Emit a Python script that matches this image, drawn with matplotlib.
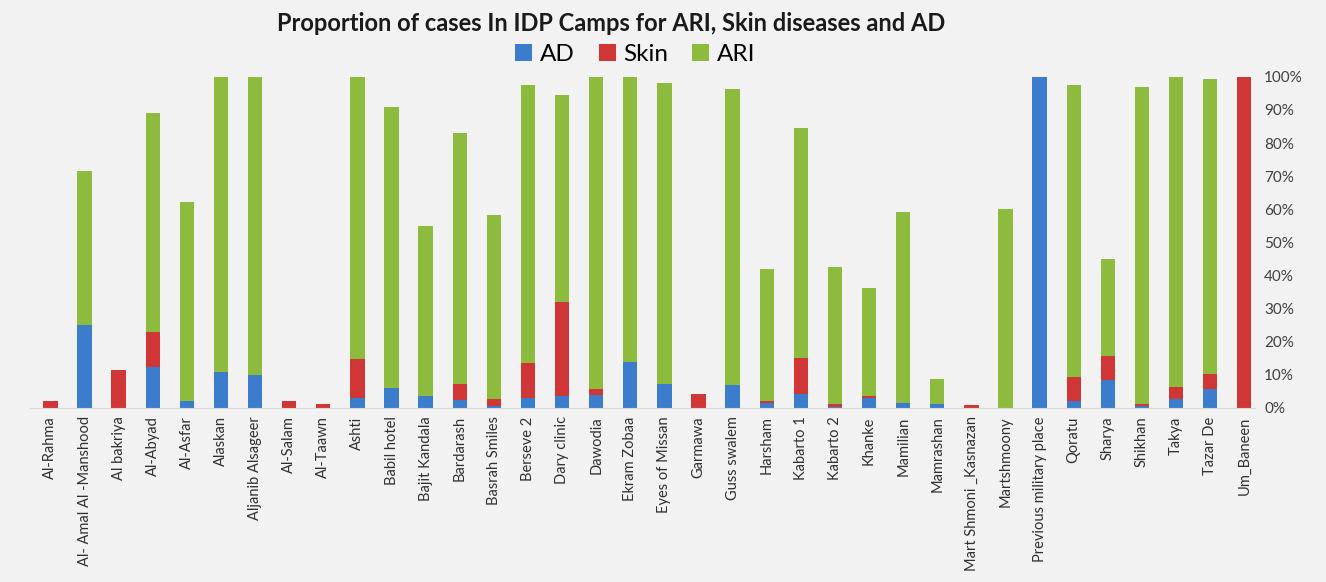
import matplotlib
matplotlib.use("Agg")
import matplotlib.pyplot as plt
import numpy as np
from matplotlib.ticker import PercentFormatter

camps = ["Al-Rahma", "Al- Amal Al -Manshood", "Al bakriya", "Al-Abyad", "Al-Asfar",
         "Alaskan", "Aljanib Alsageer", "Al-Salam", "Al-Taawn", "Ashti", "Babil hotel",
         "Bajit Kandala", "Bardarash", "Basrah Smiles", "Berseve 2", "Dary clinic",
         "Dawodia", "Ekram Zobaa", "Eyes of Missan", "Garmawa", "Guss swalem", "Harsham",
         "Kabarto 1", "Kabarto 2", "Khanke", "Mamilian", "Mamrashan",
         "Mart Shmoni _Kasnazan", "Martshmoony", "Previous military place", "Qoratu",
         "Sharya", "Shikhan", "Takya", "Tazar De", "Um_Baneen"]

ad = [0, 25, 0, 12.5, 2, 11, 10, 0, 0, 3, 6, 3.5, 2.5, 0.5, 3, 3.5, 4, 13.8, 7.2, 0,
      7, 1.4, 4.1, 0.3, 3, 1.6, 1.2, 0, 0, 100, 2.2, 8.5, 0.5, 2.6, 5.6, 0]
skin = [2, 0, 11.5, 10.5, 0, 0, 0, 2, 1.2, 11.7, 0, 0, 4.6, 2.3, 10.7, 28.6, 1.6, 0,
        0, 4.2, 0, 0.6, 11.1, 0.9, 0.5, 0, 0, 0.8, 0, 0, 7.1, 7.2, 0.7, 3.7, 4.7, 100]
ari = [0, 46.6, 0, 66.1, 60.2, 89, 90, 0, 0, 85.3, 84.9, 51.5, 76, 55.5, 83.9, 62.5,
       94.4, 86.2, 91, 0, 89.4, 40, 69.4, 41.4, 32.8, 57.6, 7.6, 0, 60.1, 0, 88.3,
       29.3, 95.8, 93.7, 89.1, 0]

c_ad, c_skin, c_ari = "#3b7dcc", "#d13636", "#8dbb3e"
bg = "#f2f2f2"

plt.rcParams["font.family"] = ["Lato", "DejaVu Sans"]

fig = plt.figure(figsize=(13.26, 5.82), dpi=100, facecolor=bg)
ax = fig.add_axes([0.0226, 0.299, 0.9235, 0.569])
ax.set_facecolor(bg)

x = np.arange(len(camps))
w = 0.42
ad_a = np.array(ad); skin_a = np.array(skin); ari_a = np.array(ari)
ax.bar(x, ad_a, w, color=c_ad, label="AD")
ax.bar(x, skin_a, w, bottom=ad_a, color=c_skin, label="Skin")
ax.bar(x, ari_a, w, bottom=ad_a + skin_a, color=c_ari, label="ARI")

ax.set_xlim(-0.6, 35.3)
ax.set_ylim(0, 100)
ax.set_yticks(np.arange(0, 101, 10))
ax.yaxis.set_major_formatter(PercentFormatter(decimals=0))
ax.yaxis.tick_right()
ax.tick_params(axis="y", length=0, pad=7, labelsize=11, labelcolor="#404040")
ax.set_xticks(x)
ax.set_xticklabels(camps, rotation=90, fontsize=10.5, color="#303030")
ax.tick_params(axis="x", length=0, pad=6)
for s in ["top", "left", "right"]:
    ax.spines[s].set_visible(False)
ax.spines["bottom"].set_color("#d9d9d9")

fig.text(0.461, 0.96, "Proportion of cases In IDP Camps for ARI, Skin diseases and AD",
         ha="center", va="center", fontsize=17, fontweight="bold", color="#1a1a1a")
fig.legend(loc="center", bbox_to_anchor=(0.479, 0.907), ncol=3, frameon=False,
           fontsize=17.5, handlelength=0.7, handleheight=0.7, handletextpad=0.3,
           columnspacing=1.0)

fig.savefig("out.png", dpi=100, facecolor=bg)
